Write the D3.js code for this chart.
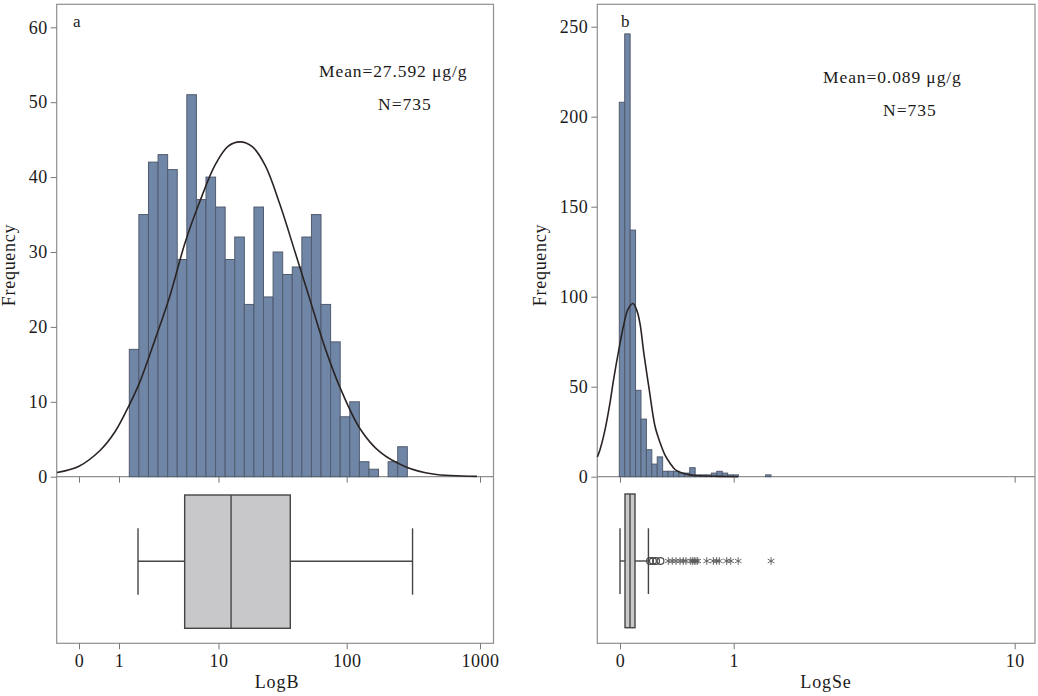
<!DOCTYPE html>
<html>
<head>
<meta charset="utf-8">
<script src="https://cdn.jsdelivr.net/npm/d3@7"></script>
<style>
 body { margin: 0; background: #fff; }
 text { font-family: "Liberation Serif", serif; fill: #1c1a1a; }
</style>
</head>
<body>
<div id="chart"></div>
<script>
// histogram counts, one entry per bin
var countsB = [17, 35, 42, 43, 41, 29, 51, 37, 40, 36, 29, 32, 23, 36, 24, 30, 27, 28, 32, 35, 23, 18, 8, 10, 2, 1, 0, 2, 4];
var countsSe = [208, 246, 137, 48, 32, 15, 7, 11, 3, 3, 3, 2, 2, 5, 1, 1, 1, 2, 3, 2, 1, 1, 0, 0, 0, 0, 0, 1];

// fitted curve: x in log10 units, y in frequency
var curveBx = [-1.55, -1, -0.475, -0.1, 0.104, 0.211, 0.362, 0.513, 0.663, 0.814, 0.965, 1.074, 1.168, 1.261, 1.363, 1.48, 1.597, 1.714, 1.831, 1.948, 2.1, 2.249, 2.445, 2.647, 2.977];
var curveBy = [0.55, 1.4, 3.5, 6, 9.6, 12.7, 18.3, 24.2, 31.2, 36.8, 41.6, 44.1, 44.7, 44.1, 41.6, 36.3, 30, 23.6, 17.2, 11.9, 6.4, 3.3, 1.3, 0.35, 0.05];
var curveSex = [-1.199, -1.176, -1.132, -1.088, -1.059, -1.006, -0.965, -0.93, -0.886, -0.85, -0.824, -0.789, -0.742, -0.692, -0.648, -0.604, -0.56, -0.516, -0.472, -0.384, -0.296, -0.12, 0.015];
var curveSey = [11, 15, 26, 41, 53, 72, 85, 93, 96.2, 92, 85, 68, 48, 28, 19, 12, 7.5, 4, 2.5, 1, 0.5, 0.2, 0];

// box plots: low whisker, q1, median, q3, high whisker (log10 units)
var boxB = [0.191, 0.66, 1.098, 1.56, 2.494];
var boxSe = [-1, -0.956, -0.912, -0.868, -0.75];
var circlesSe = [-0.736, -0.71, -0.683, -0.644];
var starsSe = [-0.575, -0.54, -0.507, -0.472, -0.443, -0.42, -0.378, -0.361, -0.347, -0.332, -0.317, -0.237, -0.179, -0.15, -0.127, -0.062, -0.026, 0.016, 0.133];

// axis ticks
var xTicksB = [-1, 0, 1, 2, 3];
var xLabelsB = ["0", "1", "10", "100", "1000"];
var xTicksSe = [-1, 0, 1];
var xLabelsSe = ["0", "1", "10"];
var yTicksB = [0, 10, 20, 30, 40, 50, 60];
var yTicksSe = [0, 50, 100, 150, 200, 250];

var svg = d3.select("#chart").append("svg")
  .attr("width", 1038)
  .attr("height", 696)
  .style("display", "block");

var frameColor = "#8f8f8f";
var tickColor = "#777";
var lineColor = "#2b2424";

function drawPanel(p) {
  var g = svg.append("g");

  // frame and divider
  g.append("rect")
    .attr("x", p.left).attr("y", p.top)
    .attr("width", p.right - p.left).attr("height", p.bottom - p.top)
    .attr("fill", "none").attr("stroke", frameColor).attr("stroke-width", 1.2);
  g.append("line")
    .attr("x1", p.left).attr("x2", p.right)
    .attr("y1", p.base).attr("y2", p.base)
    .attr("stroke", frameColor).attr("stroke-width", 1.2);

  // bars
  var bars = d3.scaleBand().domain(d3.range(p.counts.length)).range(p.binRange);
  g.selectAll("rect.bar")
    .data(p.counts.map(function(d, i) { return {i: i, n: d}; }).filter(function(d) { return d.n > 0; }))
    .enter()
    .append("rect")
      .attr("class", "bar")
      .attr("x", function(d) { return bars(d.i); })
      .attr("y", function(d) { return p.y(d.n); })
      .attr("width", bars.bandwidth())
      .attr("height", function(d) { return p.y(0) - p.y(d.n); })
      .attr("fill", "#7086a6")
      .attr("stroke", "#505b6e")
      .attr("stroke-width", 1);

  // fitted curve
  var line = d3.line()
    .x(function(d) { return p.x(d); })
    .y(function(d, i) { return p.y(p.curveY[i]); })
    .curve(d3.curveCatmullRom);
  g.append("path")
    .attr("d", line(p.curveX))
    .attr("fill", "none")
    .attr("stroke", lineColor)
    .attr("stroke-width", 1.6);

  // y axis
  var yAxis = d3.axisLeft(p.y).tickValues(p.yTicks).tickSize(6).tickPadding(3);
  var yg = g.append("g").attr("transform", "translate(" + p.left + ",0)").call(yAxis);
  styleAxis(yg);

  // x axis, ticks at the divider and again below the box plot
  var labels = d3.scaleOrdinal().domain(p.xTicks).range(p.xLabels);
  var xTop = d3.axisBottom(p.x).tickValues(p.xTicks).tickSize(6).tickFormat("");
  styleAxis(g.append("g").attr("transform", "translate(0," + p.base + ")").call(xTop));
  var xBottom = d3.axisBottom(p.x).tickValues(p.xTicks).tickSize(6).tickPadding(5)
    .tickFormat(function(d) { return labels(d); });
  styleAxis(g.append("g").attr("transform", "translate(0," + p.bottom + ")").call(xBottom));

  // box plot
  var b = p.box, mid = p.boxMid;
  var segs = [
    [b[0], mid, b[1], mid],
    [b[3], mid, b[4], mid],
    [b[0], p.capTop, b[0], p.capBottom],
    [b[4], p.capTop, b[4], p.capBottom]
  ];
  g.selectAll("line.box")
    .data(segs)
    .enter()
    .append("line")
      .attr("class", "box")
      .attr("x1", function(d) { return p.x(d[0]); })
      .attr("y1", function(d) { return d[1]; })
      .attr("x2", function(d) { return p.x(d[2]); })
      .attr("y2", function(d) { return d[3]; })
      .attr("stroke", "#474444")
      .attr("stroke-width", 1.4);
  g.append("rect")
    .attr("x", p.x(b[1])).attr("y", p.boxTop)
    .attr("width", p.x(b[3]) - p.x(b[1])).attr("height", p.boxBottom - p.boxTop)
    .attr("fill", "#c8c8ca").attr("stroke", "#474444").attr("stroke-width", 1.4);
  g.append("line")
    .attr("x1", p.x(b[2])).attr("x2", p.x(b[2]))
    .attr("y1", p.boxTop).attr("y2", p.boxBottom)
    .attr("stroke", "#474444").attr("stroke-width", 1.4);

  // outliers
  g.selectAll("circle.out")
    .data(p.circles || [])
    .enter()
    .append("circle")
      .attr("class", "out")
      .attr("cx", function(d) { return p.x(d); })
      .attr("cy", mid)
      .attr("r", 3.4)
      .attr("fill", "none")
      .attr("stroke", "#4a4a4a")
      .attr("stroke-width", 1.2);
  g.selectAll("path.star")
    .data(p.stars || [])
    .enter()
    .append("path")
      .attr("class", "star")
      .attr("d", d3.symbol().type(d3.symbolAsterisk).size(42))
      .attr("transform", function(d) { return "translate(" + p.x(d) + "," + mid + ")"; })
      .attr("fill", "none")
      .attr("stroke", "#5a5a5a")
      .attr("stroke-width", 0.9);

  // texts
  addText(g, p.letter, p.letterX, 27, 17, "start");
  addText(g, p.meanText, p.meanX, p.meanY, 17.5, "start").attr("letter-spacing", 0.9);
  addText(g, "N=735", p.nX, p.meanY + 33, 17.5, "start").attr("letter-spacing", 1);
  addText(g, p.xTitle, p.xTitleX, 688, 18, "middle").attr("letter-spacing", 0.9);
  addText(g, "Frequency", 0, 0, 18, "middle")
    .attr("letter-spacing", 0.7)
    .attr("transform", "translate(" + p.yTitleX + ",265) rotate(-90)");
}

function styleAxis(a) {
  a.select(".domain").remove();
  a.selectAll(".tick line").attr("stroke", tickColor).attr("stroke-width", 1);
  a.selectAll(".tick text")
    .style("font-family", '"Liberation Serif", serif')
    .style("font-size", "18px")
    .attr("letter-spacing", 0.5)
    .attr("fill", "#1c1a1a");
}

function addText(g, s, x, y, size, anchor) {
  return g.append("text")
    .attr("x", x).attr("y", y)
    .attr("font-size", size)
    .attr("text-anchor", anchor)
    .text(s);
}

drawPanel({
  left: 56.7, right: 493.5, top: 4.3, base: 476.7, bottom: 643.3,
  counts: countsB, binRange: [129.3, 407.3],
  x: d3.scaleLinear().domain(xTicksB).range([79, 119, 218.5, 346.7, 480]),
  y: d3.scaleLinear().domain([0, 60]).range([476.7, 27.3]),
  curveX: curveBx, curveY: curveBy,
  xTicks: xTicksB, xLabels: xLabelsB, yTicks: yTicksB,
  box: boxB, boxTop: 495, boxBottom: 628.3, boxMid: 561.3, capTop: 528.3, capBottom: 594.7,
  letter: "a", letterX: 73,
  meanText: "Mean=27.592 μg/g", meanX: 319, meanY: 76.5, nX: 378,
  xTitle: "LogB", xTitleX: 277, yTitleX: 15
});

drawPanel({
  left: 597.3, right: 1035, top: 4.3, base: 476.7, bottom: 643.3,
  counts: countsSe, binRange: [619.3, 771],
  x: d3.scaleLinear().domain(xTicksSe).range([620, 733.7, 1014.7]),
  y: d3.scaleLinear().domain([0, 250]).range([476.7, 26.7]),
  curveX: curveSex, curveY: curveSey,
  xTicks: xTicksSe, xLabels: xLabelsSe, yTicks: yTicksSe,
  box: boxSe, boxTop: 494, boxBottom: 627.7, boxMid: 561, capTop: 528.3, capBottom: 594,
  circles: circlesSe, stars: starsSe,
  letter: "b", letterX: 621,
  meanText: "Mean=0.089 μg/g", meanX: 823, meanY: 83, nX: 883,
  xTitle: "LogSe", xTitleX: 826, yTitleX: 546
});
</script>
</body>
</html>
